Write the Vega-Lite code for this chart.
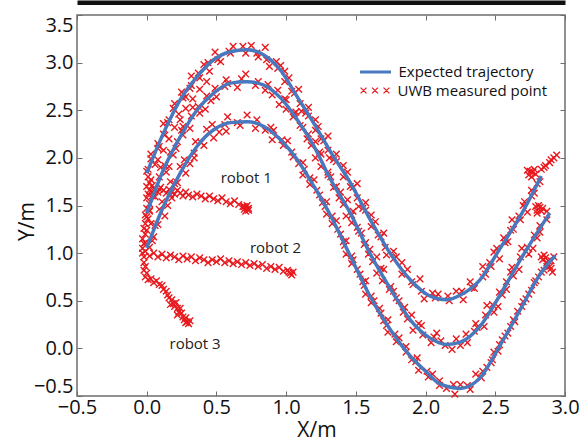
{
  "$schema": "https://vega.github.io/schema/vega-lite/v6.json",
  "width": 488,
  "height": 381,
  "autosize": {"type": "none"},
  "padding": {"left": 77, "top": 15, "right": 17, "bottom": 46},
  "background": "white",
  "config": {
    "view": {"stroke": "#6e6e6e", "strokeWidth": 1.5},
    "font": "Open Sans",
    "axis": {"grid": false, "domain": false, "tickColor": "#6e6e6e", "tickSize": -5, "tickWidth": 1, "labelFont": "Open Sans", "labelFontSize": 20, "labelColor": "#111", "titleFont": "Open Sans", "titleFontSize": 21, "titleFontWeight": "normal", "titleColor": "#111"},
    "legend": {"labelFont": "Open Sans", "labelFontSize": 15, "labelColor": "#111"}
  },
  "datasets": {
    "traj": [
      {"c":1,"x":0.00,"y":1.84},{"c":1,"x":0.12,"y":2.26},{"c":1,"x":0.24,"y":2.61},{"c":1,"x":0.36,"y":2.85},{"c":1,"x":0.48,"y":3.03},{"c":1,"x":0.60,"y":3.115},{"c":1,"x":0.72,"y":3.135},{"c":1,"x":0.84,"y":3.08},{"c":1,"x":0.96,"y":2.92},{"c":1,"x":1.08,"y":2.64},{"c":1,"x":1.20,"y":2.36},{"c":1,"x":1.32,"y":2.06},{"c":1,"x":1.46,"y":1.74},{"c":1,"x":1.60,"y":1.36},{"c":1,"x":1.75,"y":0.99},{"c":1,"x":1.89,"y":0.72},{"c":1,"x":2.03,"y":0.55},{"c":1,"x":2.15,"y":0.51},{"c":1,"x":2.25,"y":0.56},{"c":1,"x":2.39,"y":0.72},{"c":1,"x":2.53,"y":1.04},{"c":1,"x":2.68,"y":1.39},{"c":1,"x":2.83,"y":1.81},
      {"c":2,"x":0.00,"y":1.42},{"c":2,"x":0.12,"y":1.875},{"c":2,"x":0.24,"y":2.22},{"c":2,"x":0.36,"y":2.50},{"c":2,"x":0.48,"y":2.68},{"c":2,"x":0.60,"y":2.785},{"c":2,"x":0.72,"y":2.80},{"c":2,"x":0.84,"y":2.765},{"c":2,"x":0.96,"y":2.63},{"c":2,"x":1.08,"y":2.40},{"c":2,"x":1.20,"y":2.12},{"c":2,"x":1.32,"y":1.77},{"c":2,"x":1.46,"y":1.42},{"c":2,"x":1.60,"y":1.00},{"c":2,"x":1.75,"y":0.62},{"c":2,"x":1.89,"y":0.30},{"c":2,"x":2.03,"y":0.11},{"c":2,"x":2.15,"y":0.04},{"c":2,"x":2.25,"y":0.065},{"c":2,"x":2.39,"y":0.23},{"c":2,"x":2.53,"y":0.55},{"c":2,"x":2.68,"y":0.93},{"c":2,"x":2.89,"y":1.42},
      {"c":3,"x":0.00,"y":1.055},{"c":3,"x":0.12,"y":1.49},{"c":3,"x":0.24,"y":1.84},{"c":3,"x":0.36,"y":2.12},{"c":3,"x":0.48,"y":2.295},{"c":3,"x":0.60,"y":2.37},{"c":3,"x":0.72,"y":2.38},{"c":3,"x":0.84,"y":2.33},{"c":3,"x":0.96,"y":2.19},{"c":3,"x":1.08,"y":1.98},{"c":3,"x":1.20,"y":1.70},{"c":3,"x":1.32,"y":1.39},{"c":3,"x":1.46,"y":0.97},{"c":3,"x":1.60,"y":0.55},{"c":3,"x":1.75,"y":0.19},{"c":3,"x":1.89,"y":-0.08},{"c":3,"x":2.00,"y":-0.24},{"c":3,"x":2.10,"y":-0.37},{"c":3,"x":2.25,"y":-0.42},{"c":3,"x":2.39,"y":-0.31},{"c":3,"x":2.53,"y":0.02},{"c":3,"x":2.68,"y":0.41},{"c":3,"x":2.82,"y":0.775},{"c":3,"x":2.93,"y":0.975}
    ],
    "pts": [
      {"x":0.01,"y":1.88},{"x":0.00,"y":1.86},{"x":0.03,"y":1.99},{"x":0.06,"y":1.93},{"x":0.03,"y":2.04},{"x":0.08,"y":2.15},{"x":0.08,"y":2.10},{"x":0.09,"y":2.12},{"x":0.13,"y":2.24},
      {"x":0.12,"y":2.25},{"x":0.12,"y":2.36},{"x":0.16,"y":2.40},{"x":0.15,"y":2.37},{"x":0.19,"y":2.52},{"x":0.23,"y":2.46},{"x":0.20,"y":2.57},
      {"x":0.25,"y":2.69},{"x":0.26,"y":2.63},{"x":0.28,"y":2.64},{"x":0.32,"y":2.76},{"x":0.31,"y":2.73},{"x":0.32,"y":2.86},
      {"x":0.37,"y":2.89},{"x":0.38,"y":2.84},{"x":0.41,"y":2.98},{"x":0.45,"y":2.91},{"x":0.44,"y":3.00},
      {"x":0.49,"y":3.11},{"x":0.51,"y":3.03},{"x":0.53,"y":3.01},{"x":0.59,"y":3.12},
      {"x":0.60,"y":3.10},{"x":0.62,"y":3.17},{"x":0.69,"y":3.17},
      {"x":0.71,"y":3.10},{"x":0.75,"y":3.18},{"x":0.80,"y":3.06},{"x":0.79,"y":3.10},
      {"x":0.85,"y":3.16},{"x":0.86,"y":3.03},{"x":0.88,"y":2.96},{"x":0.93,"y":3.01},{"x":0.94,"y":2.94},
      {"x":0.96,"y":2.97},{"x":0.99,"y":2.91},{"x":0.99,"y":2.80},{"x":1.02,"y":2.84},{"x":1.06,"y":2.68},{"x":1.04,"y":2.70},
      {"x":1.09,"y":2.72},{"x":1.10,"y":2.57},{"x":1.11,"y":2.49},{"x":1.16,"y":2.53},{"x":1.16,"y":2.44},{"x":1.14,"y":2.47},
      {"x":1.21,"y":2.40},{"x":1.21,"y":2.29},{"x":1.23,"y":2.33},{"x":1.27,"y":2.18},{"x":1.25,"y":2.20},{"x":1.30,"y":2.23},{"x":1.30,"y":2.08},
      {"x":1.31,"y":2.00},{"x":1.36,"y":2.04},{"x":1.36,"y":1.96},{"x":1.34,"y":1.98},{"x":1.41,"y":1.92},{"x":1.41,"y":1.80},{"x":1.44,"y":1.85},
      {"x":1.48,"y":1.69},{"x":1.46,"y":1.70},{"x":1.51,"y":1.73},{"x":1.51,"y":1.58},{"x":1.52,"y":1.49},{"x":1.57,"y":1.53},{"x":1.57,"y":1.45},{"x":1.55,"y":1.47},
      {"x":1.61,"y":1.40},{"x":1.61,"y":1.28},{"x":1.64,"y":1.33},{"x":1.68,"y":1.17},{"x":1.66,"y":1.19},{"x":1.70,"y":1.21},{"x":1.71,"y":1.06},{"x":1.72,"y":0.98},
      {"x":1.77,"y":1.02},{"x":1.77,"y":0.94},{"x":1.79,"y":0.96},{"x":1.83,"y":0.90},{"x":1.83,"y":0.78},{"x":1.87,"y":0.83},
      {"x":1.91,"y":0.67},{"x":1.90,"y":0.70},{"x":1.96,"y":0.73},{"x":1.97,"y":0.60},{"x":1.99,"y":0.52},
      {"x":2.05,"y":0.58},{"x":2.07,"y":0.53},{"x":2.09,"y":0.57},
      {"x":2.16,"y":0.55},{"x":2.17,"y":0.50},{"x":2.22,"y":0.60},
      {"x":2.27,"y":0.51},{"x":2.26,"y":0.60},{"x":2.32,"y":0.70},{"x":2.33,"y":0.64},{"x":2.35,"y":0.63},
      {"x":2.41,"y":0.75},{"x":2.43,"y":0.78},{"x":2.41,"y":0.86},{"x":2.46,"y":0.90},{"x":2.47,"y":0.86},{"x":2.49,"y":1.01},{"x":2.53,"y":0.94},
      {"x":2.51,"y":1.05},{"x":2.56,"y":1.16},{"x":2.57,"y":1.11},{"x":2.59,"y":1.12},{"x":2.63,"y":1.25},{"x":2.61,"y":1.24},{"x":2.62,"y":1.35},{"x":2.67,"y":1.39},
      {"x":2.68,"y":1.35},{"x":2.70,"y":1.50},{"x":2.73,"y":1.43},{"x":2.71,"y":1.54},{"x":2.76,"y":1.66},{"x":2.76,"y":1.60},{"x":2.78,"y":1.63},{"x":2.82,"y":1.75},{"x":2.80,"y":1.73},
      {"x":2.74,"y":1.82},{"x":2.75,"y":1.86},{"x":2.77,"y":1.85},{"x":2.76,"y":1.80},{"x":2.78,"y":1.88},{"x":2.73,"y":1.87},{"x":2.79,"y":1.83},{"x":2.83,"y":1.88},{"x":2.86,"y":1.92},{"x":2.89,"y":1.95},{"x":2.92,"y":2.00},{"x":2.94,"y":2.03},{"x":2.90,"y":1.98},{"x":2.85,"y":1.90},
      {"x":0.00,"y":1.38},{"x":0.02,"y":1.52},{"x":0.02,"y":1.45},{"x":0.06,"y":1.59},{"x":0.05,"y":1.68},{"x":0.04,"y":1.64},{"x":0.09,"y":1.67},{"x":0.09,"y":1.80},{"x":0.10,"y":1.90},
      {"x":0.14,"y":1.85},{"x":0.13,"y":1.92},{"x":0.16,"y":1.91},{"x":0.17,"y":2.06},{"x":0.19,"y":2.03},{"x":0.22,"y":2.17},{"x":0.21,"y":2.10},
      {"x":0.26,"y":2.24},{"x":0.26,"y":2.33},{"x":0.25,"y":2.29},{"x":0.31,"y":2.31},{"x":0.32,"y":2.44},{"x":0.33,"y":2.53},
      {"x":0.38,"y":2.47},{"x":0.37,"y":2.54},{"x":0.42,"y":2.51},{"x":0.43,"y":2.65},{"x":0.46,"y":2.60},
      {"x":0.49,"y":2.73},{"x":0.50,"y":2.64},{"x":0.56,"y":2.75},{"x":0.57,"y":2.82},
      {"x":0.58,"y":2.78},{"x":0.65,"y":2.74},{"x":0.68,"y":2.83},
      {"x":0.71,"y":2.88},{"x":0.78,"y":2.76},{"x":0.80,"y":2.80},
      {"x":0.85,"y":2.71},{"x":0.87,"y":2.77},{"x":0.90,"y":2.66},{"x":0.94,"y":2.71},
      {"x":0.95,"y":2.56},{"x":0.99,"y":2.62},{"x":1.00,"y":2.61},{"x":1.00,"y":2.51},{"x":1.05,"y":2.43},{"x":1.06,"y":2.47},
      {"x":1.07,"y":2.48},{"x":1.12,"y":2.32},{"x":1.10,"y":2.34},{"x":1.15,"y":2.20},{"x":1.16,"y":2.25},{"x":1.18,"y":2.13},
      {"x":1.21,"y":2.17},{"x":1.21,"y":2.00},{"x":1.25,"y":2.04},{"x":1.24,"y":2.06},{"x":1.25,"y":1.91},{"x":1.30,"y":1.82},{"x":1.30,"y":1.85},
      {"x":1.32,"y":1.80},{"x":1.36,"y":1.70},{"x":1.34,"y":1.69},{"x":1.38,"y":1.58},{"x":1.39,"y":1.64},{"x":1.41,"y":1.51},{"x":1.44,"y":1.56},{"x":1.43,"y":1.39},
      {"x":1.48,"y":1.44},{"x":1.47,"y":1.40},{"x":1.47,"y":1.32},{"x":1.52,"y":1.23},{"x":1.51,"y":1.27},{"x":1.54,"y":1.21},{"x":1.57,"y":1.11},{"x":1.56,"y":1.09},{"x":1.59,"y":0.99},
      {"x":1.60,"y":1.04},{"x":1.62,"y":0.91},{"x":1.65,"y":0.96},{"x":1.65,"y":0.79},{"x":1.70,"y":0.83},{"x":1.68,"y":0.84},{"x":1.69,"y":0.71},{"x":1.74,"y":0.62},
      {"x":1.75,"y":0.65},{"x":1.77,"y":0.60},{"x":1.81,"y":0.50},{"x":1.79,"y":0.53},{"x":1.84,"y":0.38},{"x":1.85,"y":0.43},{"x":1.87,"y":0.31},
      {"x":1.90,"y":0.35},{"x":1.91,"y":0.19},{"x":1.97,"y":0.24},{"x":1.95,"y":0.26},{"x":1.98,"y":0.14},
      {"x":2.04,"y":0.06},{"x":2.06,"y":0.12},{"x":2.08,"y":0.16},{"x":2.14,"y":0.03},
      {"x":2.11,"y":0.08},{"x":2.19,"y":-0.01},{"x":2.22,"y":0.10},
      {"x":2.25,"y":0.03},{"x":2.29,"y":0.15},{"x":2.30,"y":0.06},{"x":2.35,"y":0.18},{"x":2.36,"y":0.26},
      {"x":2.37,"y":0.22},{"x":2.42,"y":0.23},{"x":2.43,"y":0.35},{"x":2.44,"y":0.45},{"x":2.49,"y":0.38},{"x":2.48,"y":0.46},{"x":2.52,"y":0.44},
      {"x":2.53,"y":0.59},{"x":2.55,"y":0.56},{"x":2.58,"y":0.70},{"x":2.58,"y":0.62},{"x":2.63,"y":0.76},{"x":2.62,"y":0.85},{"x":2.61,"y":0.80},{"x":2.67,"y":0.83},
      {"x":2.68,"y":0.96},{"x":2.69,"y":1.05},{"x":2.74,"y":0.99},{"x":2.73,"y":1.06},{"x":2.77,"y":1.05},{"x":2.78,"y":1.19},{"x":2.80,"y":1.16},{"x":2.82,"y":1.29},{"x":2.82,"y":1.22},{"x":2.87,"y":1.35},{"x":2.87,"y":1.44},
      {"x":2.80,"y":1.45},{"x":2.82,"y":1.48},{"x":2.79,"y":1.49},{"x":2.83,"y":1.44},{"x":2.81,"y":1.50},{"x":2.84,"y":1.47},{"x":2.80,"y":1.42},
      {"x":-0.01,"y":1.11},{"x":0.02,"y":1.06},{"x":0.05,"y":1.17},{"x":0.04,"y":1.13},{"x":0.03,"y":1.31},{"x":0.08,"y":1.30},{"x":0.06,"y":1.29},{"x":0.09,"y":1.46},{"x":0.13,"y":1.39},
      {"x":0.11,"y":1.54},{"x":0.15,"y":1.50},{"x":0.17,"y":1.61},{"x":0.18,"y":1.58},{"x":0.17,"y":1.75},{"x":0.22,"y":1.74},{"x":0.20,"y":1.73},
      {"x":0.24,"y":1.91},{"x":0.28,"y":1.84},{"x":0.27,"y":1.98},{"x":0.31,"y":1.94},{"x":0.34,"y":2.05},{"x":0.34,"y":2.00},
      {"x":0.35,"y":2.17},{"x":0.39,"y":2.16},{"x":0.41,"y":2.13},{"x":0.43,"y":2.30},{"x":0.48,"y":2.21},
      {"x":0.47,"y":2.35},{"x":0.52,"y":2.27},{"x":0.56,"y":2.35},{"x":0.57,"y":2.28},
      {"x":0.58,"y":2.43},{"x":0.65,"y":2.37},{"x":0.67,"y":2.34},
      {"x":0.72,"y":2.45},{"x":0.78,"y":2.31},{"x":0.79,"y":2.40},
      {"x":0.85,"y":2.29},{"x":0.89,"y":2.32},{"x":0.90,"y":2.19},{"x":0.91,"y":2.29},
      {"x":0.97,"y":2.19},{"x":0.98,"y":2.13},{"x":1.01,"y":2.18},{"x":1.05,"y":2.01},{"x":1.04,"y":2.06},
      {"x":1.09,"y":1.94},{"x":1.12,"y":1.95},{"x":1.12,"y":1.82},{"x":1.13,"y":1.88},{"x":1.17,"y":1.79},{"x":1.17,"y":1.72},
      {"x":1.20,"y":1.77},{"x":1.24,"y":1.61},{"x":1.22,"y":1.66},{"x":1.26,"y":1.53},{"x":1.29,"y":1.54},{"x":1.29,"y":1.41},{"x":1.28,"y":1.49},
      {"x":1.33,"y":1.39},{"x":1.33,"y":1.31},{"x":1.36,"y":1.34},{"x":1.39,"y":1.20},{"x":1.37,"y":1.25},{"x":1.41,"y":1.12},{"x":1.43,"y":1.13},{"x":1.43,"y":0.99},{"x":1.42,"y":1.08},
      {"x":1.47,"y":0.97},{"x":1.47,"y":0.89},{"x":1.48,"y":0.93},{"x":1.53,"y":0.78},{"x":1.51,"y":0.83},{"x":1.55,"y":0.70},{"x":1.57,"y":0.71},{"x":1.57,"y":0.57},{"x":1.56,"y":0.66},
      {"x":1.61,"y":0.55},{"x":1.61,"y":0.48},{"x":1.63,"y":0.50},{"x":1.68,"y":0.37},{"x":1.67,"y":0.42},{"x":1.70,"y":0.29},{"x":1.73,"y":0.30},{"x":1.73,"y":0.17},
      {"x":1.72,"y":0.24},{"x":1.78,"y":0.15},{"x":1.79,"y":0.07},{"x":1.81,"y":0.11},{"x":1.86,"y":-0.04},{"x":1.86,"y":0.02},
      {"x":1.90,"y":-0.12},{"x":1.94,"y":-0.10},{"x":1.95,"y":-0.23},{"x":1.93,"y":-0.14},
      {"x":2.01,"y":-0.24},{"x":2.02,"y":-0.30},{"x":2.05,"y":-0.27},{"x":2.10,"y":-0.39},
      {"x":2.10,"y":-0.34},{"x":2.15,"y":-0.42},{"x":2.20,"y":-0.38},{"x":2.21,"y":-0.48},
      {"x":2.25,"y":-0.38},{"x":2.30,"y":-0.39},{"x":2.32,"y":-0.43},{"x":2.36,"y":-0.27},
      {"x":2.40,"y":-0.31},{"x":2.41,"y":-0.24},{"x":2.44,"y":-0.20},{"x":2.47,"y":-0.15},{"x":2.48,"y":-0.12},{"x":2.49,"y":-0.04},{"x":2.52,"y":-0.03},
      {"x":2.53,"y":0.04},{"x":2.55,"y":0.09},{"x":2.57,"y":0.13},{"x":2.59,"y":0.16},{"x":2.61,"y":0.23},{"x":2.64,"y":0.28},{"x":2.63,"y":0.30},{"x":2.66,"y":0.39},
      {"x":2.69,"y":0.44},{"x":2.70,"y":0.49},{"x":2.72,"y":0.52},{"x":2.74,"y":0.57},{"x":2.76,"y":0.61},{"x":2.78,"y":0.69},{"x":2.79,"y":0.71},{"x":2.81,"y":0.75},
      {"x":2.83,"y":0.80},{"x":2.85,"y":0.82},{"x":2.87,"y":0.86},{"x":2.90,"y":0.92},{"x":2.92,"y":0.96},
      {"x":2.84,"y":0.93},{"x":2.86,"y":0.95},{"x":2.88,"y":0.92},{"x":2.85,"y":0.98},{"x":2.87,"y":0.90},{"x":2.90,"y":0.84},{"x":2.91,"y":0.80},{"x":2.89,"y":0.86},{"x":2.83,"y":0.96},
      {"x":0.08,"y":1.98},{"x":0.12,"y":2.08},{"x":0.16,"y":2.20},{"x":0.20,"y":2.32},{"x":0.24,"y":2.40},{"x":0.28,"y":2.52},{"x":0.33,"y":2.62},{"x":0.38,"y":2.72},{"x":0.43,"y":2.80},
      {"x":-0.03,"y":1.05},{"x":-0.02,"y":1.10},{"x":-0.03,"y":1.00},{"x":-0.02,"y":0.96},{"x":-0.01,"y":1.02},{"x":-0.03,"y":1.15},{"x":-0.01,"y":1.20},{"x":-0.02,"y":1.26},{"x":0.00,"y":1.24},{"x":-0.01,"y":1.31},{"x":0.01,"y":1.36},{"x":-0.01,"y":1.40},{"x":0.02,"y":1.44},{"x":0.00,"y":1.47},{"x":0.00,"y":1.58},{"x":0.01,"y":1.62},{"x":0.03,"y":1.77},{"x":0.02,"y":1.74},{"x":0.04,"y":1.60},{"x":0.01,"y":1.80},
      {"x":0.00,"y":1.70},{"x":0.02,"y":1.66},{"x":0.04,"y":1.71},{"x":0.06,"y":1.67},{"x":0.08,"y":1.64},{"x":0.10,"y":1.69},{"x":0.12,"y":1.66},{"x":0.14,"y":1.63},{"x":0.16,"y":1.67},{"x":0.18,"y":1.64},{"x":0.20,"y":1.62},{"x":0.22,"y":1.66},{"x":0.24,"y":1.63},{"x":0.26,"y":1.60},{"x":0.28,"y":1.64},{"x":0.30,"y":1.61},{"x":0.33,"y":1.59},{"x":0.36,"y":1.62},{"x":0.39,"y":1.60},{"x":0.42,"y":1.57},{"x":0.45,"y":1.60},{"x":0.48,"y":1.57},{"x":0.51,"y":1.55},{"x":0.54,"y":1.58},{"x":0.57,"y":1.54},{"x":0.60,"y":1.52},{"x":0.63,"y":1.55},{"x":0.66,"y":1.51},{"x":0.69,"y":1.49},
      {"x":0.70,"y":1.46},{"x":0.71,"y":1.48},{"x":0.72,"y":1.46},{"x":0.71,"y":1.44},{"x":0.73,"y":1.47},{"x":0.70,"y":1.49},{"x":0.72,"y":1.50},{"x":0.73,"y":1.45},
      {"x":0.02,"y":0.97},{"x":0.05,"y":1.00},{"x":0.08,"y":0.96},{"x":0.11,"y":0.99},{"x":0.14,"y":0.95},{"x":0.17,"y":0.98},{"x":0.20,"y":0.96},{"x":0.23,"y":0.93},{"x":0.26,"y":0.97},{"x":0.29,"y":0.94},{"x":0.32,"y":0.96},{"x":0.35,"y":0.92},{"x":0.38,"y":0.95},{"x":0.41,"y":0.93},{"x":0.44,"y":0.90},{"x":0.47,"y":0.93},{"x":0.50,"y":0.91},{"x":0.53,"y":0.94},{"x":0.56,"y":0.90},{"x":0.59,"y":0.92},{"x":0.62,"y":0.89},{"x":0.65,"y":0.91},{"x":0.68,"y":0.88},{"x":0.71,"y":0.90},{"x":0.74,"y":0.87},{"x":0.77,"y":0.89},{"x":0.80,"y":0.86},{"x":0.83,"y":0.88},{"x":0.86,"y":0.84},{"x":0.89,"y":0.86},{"x":0.92,"y":0.83},{"x":0.95,"y":0.85},{"x":0.98,"y":0.81},{"x":1.01,"y":0.82},{"x":1.03,"y":0.79},{"x":1.05,"y":0.80},{"x":1.04,"y":0.77},{"x":1.02,"y":0.80},
      {"x":-0.02,"y":0.90},{"x":-0.01,"y":0.86},{"x":-0.02,"y":0.82},{"x":0.00,"y":0.79},{"x":-0.01,"y":0.75},{"x":0.01,"y":0.72},{"x":0.03,"y":0.73},{"x":0.05,"y":0.69},{"x":0.07,"y":0.71},{"x":0.09,"y":0.67},{"x":0.11,"y":0.66},{"x":0.12,"y":0.62},{"x":0.14,"y":0.60},{"x":0.15,"y":0.56},{"x":0.16,"y":0.53},{"x":0.18,"y":0.51},{"x":0.19,"y":0.47},{"x":0.20,"y":0.44},{"x":0.22,"y":0.42},{"x":0.23,"y":0.38},{"x":0.25,"y":0.37},{"x":0.26,"y":0.33},{"x":0.27,"y":0.30},{"x":0.28,"y":0.32},{"x":0.29,"y":0.28},{"x":0.30,"y":0.26},{"x":0.31,"y":0.29},{"x":0.28,"y":0.27},{"x":0.17,"y":0.46},{"x":0.21,"y":0.48},{"x":0.24,"y":0.42},{"x":0.22,"y":0.35}
    ],
    "lbl": [
      {"x":0.714,"y":1.79,"t":"robot 1"},
      {"x":0.924,"y":1.05,"t":"robot 2"},
      {"x":0.347,"y":0.05,"t":"robot 3"}
    ]
  },
  "layer": [
    {
      "data": {"name": "pts"},
      "mark": {"type": "point", "shape": "M-1,-1L1,1M-1,1L1,-1", "filled": false, "size": 44, "strokeWidth": 1.4, "color": "#e8191e"},
      "encoding": {
        "x": {"field": "x", "type": "quantitative", "scale": {"domain": [-0.5, 3.0], "nice": false, "zero": false},
              "axis": {"orient": "bottom", "values": [-0.5, 0, 0.5, 1, 1.5, 2, 2.5, 3], "format": ".1f", "labelPadding": 6, "labelFlush": false, "title": "X/m", "titleX": 239.5, "titleY": 34, "titleBaseline": "middle"}},
        "y": {"field": "y", "type": "quantitative", "scale": {"domain": [-0.5, 3.5], "nice": false, "zero": false},
              "axis": {"orient": "left", "values": [-0.5, 0, 0.5, 1, 1.5, 2, 2.5, 3, 3.5], "format": ".1f", "labelPadding": 9, "labelFlush": true, "title": "Y/m", "titleX": -50, "titleY": 206, "titleBaseline": "middle", "titleAngle": -90}},
        "opacity": {"datum": "UWB measured point", "type": "nominal", "scale": {"range": [0.8]},
                    "legend": {"orient": "none", "legendX": 281.5, "legendY": 59, "title": null, "padding": 0,
                               "symbolType": "M-0.93,-0.19L-0.55,0.19M-0.93,0.19L-0.55,-0.19M-0.19,-0.19L0.19,0.19M-0.19,0.19L0.19,-0.19M0.55,-0.19L0.93,0.19M0.55,0.19L0.93,-0.19",
                               "symbolSize": 961, "symbolStrokeWidth": 1.2, "symbolStrokeColor": "#e8191e", "symbolFillColor": "transparent", "symbolOpacity": 1, "labelOffset": 6}}
      }
    },
    {
      "data": {"name": "traj"},
      "mark": {"type": "line", "interpolate": "monotone", "strokeWidth": 3.5},
      "encoding": {
        "x": {"field": "x", "type": "quantitative", "scale": {"domain": [-0.5, 3.0], "nice": false, "zero": false},
              "axis": {"orient": "top", "values": [-0.5, 0, 0.5, 1, 1.5, 2, 2.5, 3], "labels": false, "title": null}},
        "y": {"field": "y", "type": "quantitative", "scale": {"domain": [-0.5, 3.5], "nice": false, "zero": false},
              "axis": {"orient": "right", "values": [-0.5, 0, 0.5, 1, 1.5, 2, 2.5, 3, 3.5], "labels": false, "title": null}},
        "detail": {"field": "c", "type": "nominal"},
        "color": {"datum": "Expected trajectory", "type": "nominal", "scale": {"range": ["#4878be"]},
                  "legend": {"orient": "none", "legendX": 281.5, "legendY": 40, "title": null, "padding": 0, "symbolType": "stroke", "symbolSize": 961, "symbolStrokeWidth": 3, "labelOffset": 6}}
      }
    },
    {
      "data": {"name": "lbl"},
      "mark": {"type": "text", "font": "Open Sans", "fontSize": 15, "color": "#222"},
      "encoding": {
        "x": {"field": "x", "type": "quantitative", "scale": {"domain": [-0.5, 3.0], "nice": false, "zero": false},
              "axis": {"orient": "top", "offset": 12.75, "domain": true, "domainColor": "#111", "domainWidth": 4.5, "ticks": false, "labels": false, "title": null}},
        "y": {"field": "y", "type": "quantitative", "scale": {"domain": [-0.5, 3.5], "nice": false, "zero": false}, "axis": null},
        "text": {"field": "t"}
      }
    }
  ],
  "resolve": {"axis": {"x": "independent", "y": "independent"}}
}
